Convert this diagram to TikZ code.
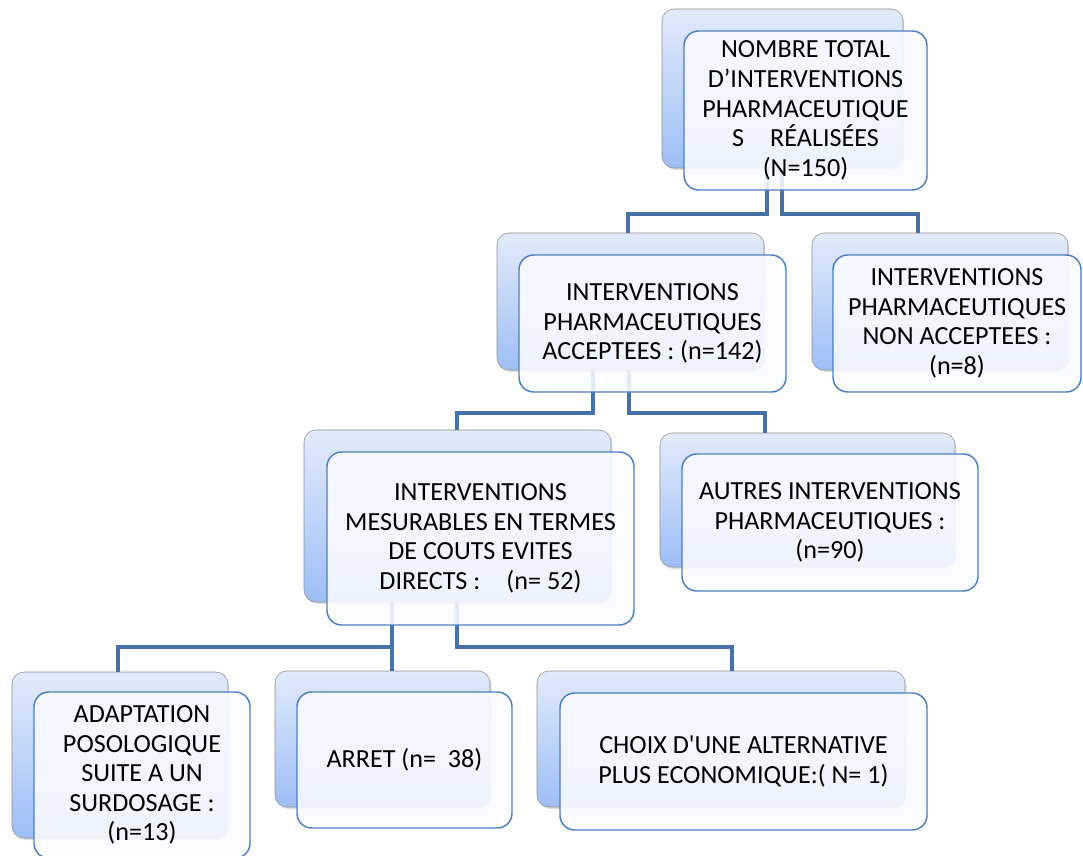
\documentclass[tikz,border=0pt]{standalone}
\usepackage{fontspec}
\newfontfamily\boxfont{Carlito}
\usepackage{tikz}
\usetikzlibrary{shadows}
\definecolor{backtop}{HTML}{E2EBFB}
\definecolor{backbot}{HTML}{9DBEF6}
\definecolor{backline}{HTML}{8E8E8E}
\definecolor{frontline}{HTML}{4F7FBF}
\definecolor{frontfill}{HTML}{F9FBFF}
\definecolor{linkblue}{HTML}{4672A8}

\begin{document}
\begin{tikzpicture}[
    x=0.75pt, y=-0.75pt,
    boxsize/.style 2 args={
        minimum width=#1*0.75pt,
        minimum height=#2*0.75pt
    },
    backbox/.style={
        draw=backline,
        rounded corners=9pt,
        top color=backtop,
        bottom color=backbot,
        drop shadow={opacity=0.25, shadow xshift=1pt, shadow yshift=-1.5pt},
        inner sep=0pt
    },
    frontbox/.style={
        draw=frontline,
        line width=1.1pt,
        rounded corners=11pt,
        fill=frontfill,
        fill opacity=0.88,
        text opacity=1,
        inner sep=0pt,
        align=center,
        font=\boxfont\fontsize{19.6}{22.2}\selectfont
    },
    link/.style={draw=linkblue, line width=3.3pt}
]
    \useasboundingbox (0,0) rectangle (1083,856);

    % back boxes
    \node[backbox, boxsize={241}{159}] (topback) at (782.5,88.5) {};
    \node[backbox, boxsize={267}{137}] (accback) at (630.5,301.5) {};
    \node[backbox, boxsize={256}{137}] (nonback) at (940,301.5) {};
    \node[backbox, boxsize={307}{172}] (mesback) at (457.5,516) {};
    \node[backbox, boxsize={295}{134}] (autback) at (807.5,500) {};
    \node[backbox, boxsize={216}{166}] (adaback) at (120,755) {};
    \node[backbox, boxsize={215}{136}] (arrback) at (382.5,739) {};
    \node[backbox, boxsize={368}{136}] (choback) at (721,739) {};

    % connectors, under the front boxes
    \draw[link] (topback.south -| 767,0) |- (628,214) -- (accback.north -| 628,0);
    \draw[link] (topback.south -| 782,0) |- (918,214) -- (nonback.north -| 918,0);
    \draw[link] (accback.south -| 593,0) |- (457,413) -- (mesback.north -| 457,0);
    \draw[link] (accback.south -| 629,0) |- (765,413) -- (autback.north -| 765,0);
    \draw[link] (mesback.south -| 392,0) |- (118,647) -- (adaback.north -| 118,0);
    \draw[link] (mesback.south -| 392,0) -- (arrback.north -| 392,0);
    \draw[link] (mesback.south -| 457,0) |- (732,647) -- (choback.north -| 732,0);

    % front boxes
    \node[frontbox, boxsize={243}{159}] (topbox) at (805.5,110.5)
        {NOMBRE TOTAL\\D’INTERVENTIONS\\PHARMACEUTIQUE\\S\quad RÉALISÉES\\(N=150)};
    \node[frontbox, boxsize={267}{137}] (accbox) at (652.5,323.5)
        {INTERVENTIONS\\PHARMACEUTIQUES\\ACCEPTEES : (n=142)};
    \node[frontbox, boxsize={248}{137}] (nonbox) at (957,323.5)
        {INTERVENTIONS\\PHARMACEUTIQUES\\NON ACCEPTEES :\\(n=8)};
    \node[frontbox, boxsize={307}{173}] (mesbox) at (480.5,538.5)
        {INTERVENTIONS\\MESURABLES EN TERMES\\DE COUTS EVITES\\DIRECTS :\quad (n= 52)};
    \node[frontbox, boxsize={296}{137}] (autbox) at (830,522.5)
        {AUTRES INTERVENTIONS\\PHARMACEUTIQUES :\\(n=90)};
    \node[frontbox, boxsize={216}{166}] (adabox) at (142,775)
        {ADAPTATION\\POSOLOGIQUE\\SUITE A UN\\SURDOSAGE :\\(n=13)};
    \node[frontbox, boxsize={215}{136}] (arrbox) at (404.5,760)
        {ARRET (n=\ \ 38)};
    \node[frontbox, boxsize={367}{137}] (chobox) at (743.5,761.5)
        {CHOIX D'UNE ALTERNATIVE\\PLUS ECONOMIQUE:( N= 1)};
\end{tikzpicture}
\end{document}
